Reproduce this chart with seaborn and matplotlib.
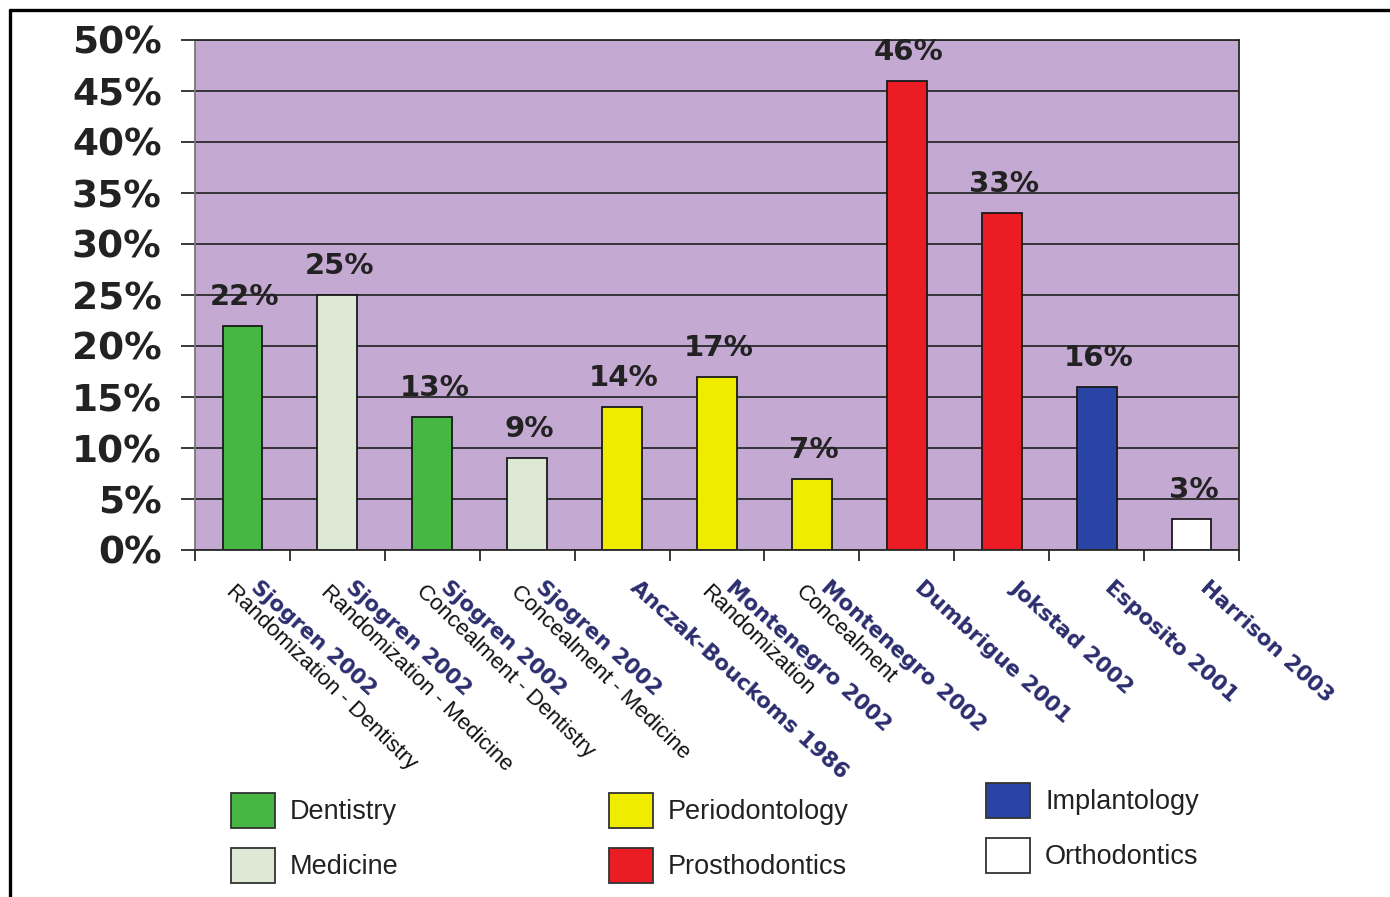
import numpy as np
import pandas as pd
import matplotlib
matplotlib.use("Agg")
import matplotlib.pyplot as plt
import seaborn as sns
from matplotlib.patches import Patch
from matplotlib.lines import Line2D
from matplotlib import font_manager as fm

# ---------------- data ----------------
studies = ["Sjogren 2002", "Sjogren 2002", "Sjogren 2002", "Sjogren 2002",
           "Anczak-Bouckoms 1986", "Montenegro 2002", "Montenegro 2002",
           "Dumbrigue 2001", "Jokstad 2002", "Esposito 2001", "Harrison 2003"]
subtitles = ["Randomization - Dentistry", "Randomization - Medicine",
             "Concealment - Dentistry", "Concealment - Medicine", "",
             "Randomization", "Concealment", "", "", "", ""]
values = [22, 25, 13, 9, 14, 17, 7, 46, 33, 16, 3]
fields = ["Dentistry", "Medicine", "Dentistry", "Medicine",
          "Periodontology", "Periodontology", "Periodontology",
          "Prosthodontics", "Prosthodontics", "Implantology", "Orthodontics"]
field_colors = {
    "Dentistry": "#46b743",
    "Medicine": "#dde9d5",
    "Periodontology": "#f0ec00",
    "Prosthodontics": "#ec1c24",
    "Implantology": "#2a44a5",
    "Orthodontics": "#ffffff",
}
legend_columns = [["Dentistry", "Medicine"],
                  ["Periodontology", "Prosthodontics"],
                  ["Implantology", "Orthodontics"]]
yticks = [0, 5, 10, 15, 20, 25, 30, 35, 40, 45, 50]

# ---------------- fonts ----------------
sns.set_style("white")
try:
    fm.findfont("Liberation Sans Narrow", fallback_to_default=False)
    narrow = True
except Exception:
    narrow = False
reg_family = ["Liberation Sans Narrow", "Liberation Sans"] if narrow else ["Liberation Sans"]
legend_size = 23 if narrow else 19.5
sub_size = 19 if narrow else 16

bar_ids = [f"b{i}" for i in range(len(values))]
df = pd.DataFrame({"bar": bar_ids, "value": values, "field": fields})

W, H = 1390, 897
fig = plt.figure(figsize=(W / 100, H / 100), dpi=100)
fig.patch.set_facecolor("white")
ax = fig.add_axes([195 / W, 1 - 550 / H, (1239 - 195) / W, (550 - 40) / H])

sns.barplot(data=df, x="bar", y="value", hue="field", order=bar_ids,
            palette=field_colors, dodge=False, width=0.42, legend=False,
            edgecolor="#1a1a1a", linewidth=1.3, ax=ax, saturation=1)

ax.set_facecolor("#c4a9d3")
ax.set_xlim(-0.5, len(values) - 0.5)
ax.set_ylim(0, 50)
ax.set_xlabel("")
ax.set_ylabel("")
ax.set_axisbelow(True)
ax.yaxis.grid(True, color="#2a2a2a", linewidth=1.3)
ax.xaxis.grid(False)

for side in ["left", "right", "top", "bottom"]:
    ax.spines[side].set_visible(True)
    ax.spines[side].set_color("#2a2a2a")
    ax.spines[side].set_linewidth(1.3)
ax.spines["left"].set_color("#777777")

ax.set_yticks(yticks)
ax.set_yticklabels([f"{v}%" for v in yticks])
ax.tick_params(axis="y", direction="out", length=10, width=1.3, color="#2a2a2a",
               pad=14, labelsize=27, labelcolor="#222222", left=True)
for lab in ax.get_yticklabels():
    lab.set_fontweight("bold")
    lab.set_family("DejaVu Sans")

ax.set_xticks(range(len(values)))
ax.set_xticklabels([])
ax.tick_params(axis="x", which="major", length=0, bottom=True)
ax.set_xticks(np.arange(-0.5, len(values), 1), minor=True)
ax.tick_params(axis="x", which="minor", direction="out", length=8, width=1.3,
               color="#2a2a2a", bottom=True)

# value labels
for i, v in enumerate(values):
    ax.annotate(f"{v}%", xy=(i, v), xytext=(2, 21), textcoords="offset pixels",
                ha="center", va="baseline", fontsize=21, fontweight="bold",
                color="#222222", family="DejaVu Sans")

# category labels
xtr = ax.get_xaxis_transform()
for i, (s, sub) in enumerate(zip(studies, subtitles)):
    ax.annotate(s, xy=(i, 0), xycoords=xtr, xytext=(18, -27),
                textcoords="offset pixels", rotation=-42, rotation_mode="anchor",
                ha="left", va="top", fontsize=15.5, fontweight="bold",
                color="#2b2d6e", family="DejaVu Sans", annotation_clip=False)
    if sub:
        ax.annotate(sub, xy=(i, 0), xycoords=xtr, xytext=(-6, -31),
                    textcoords="offset pixels", rotation=-44,
                    rotation_mode="anchor", ha="left", va="top",
                    fontsize=sub_size, color="#111111", family=reg_family,
                    annotation_clip=False)

# legends (three columns)
legend_pos = [(231, 793), (609, 793), (986, 783)]
for col, (lx, ly) in zip(legend_columns, legend_pos):
    handles = [Patch(facecolor=field_colors[f], edgecolor="#333333", linewidth=1.3,
                     label=f) for f in col]
    fs = legend_size
    px = fs * 100 / 72
    hh = (35 / px - 0.245) / 0.65
    lg = fig.legend(handles=handles, loc="upper left",
                    bbox_to_anchor=(lx / W, 1 - ly / H), frameon=False,
                    borderpad=0, borderaxespad=0,
                    handlelength=44 / px, handleheight=hh,
                    handletextpad=15 / px, labelspacing=20 / px,
                    prop={"family": reg_family, "size": fs})
    for t in lg.get_texts():
        t.set_color("#222222")

# outer frame (left and top lines)
fig.add_artist(Line2D([10 / W, 10 / W], [0, 1 - 10 / H], transform=fig.transFigure,
                      color="black", linewidth=2.4))
fig.add_artist(Line2D([10 / W, 1], [1 - 10 / H, 1 - 10 / H], transform=fig.transFigure,
                      color="black", linewidth=2.4))

fig.savefig("out.png", dpi=100, facecolor="white")
